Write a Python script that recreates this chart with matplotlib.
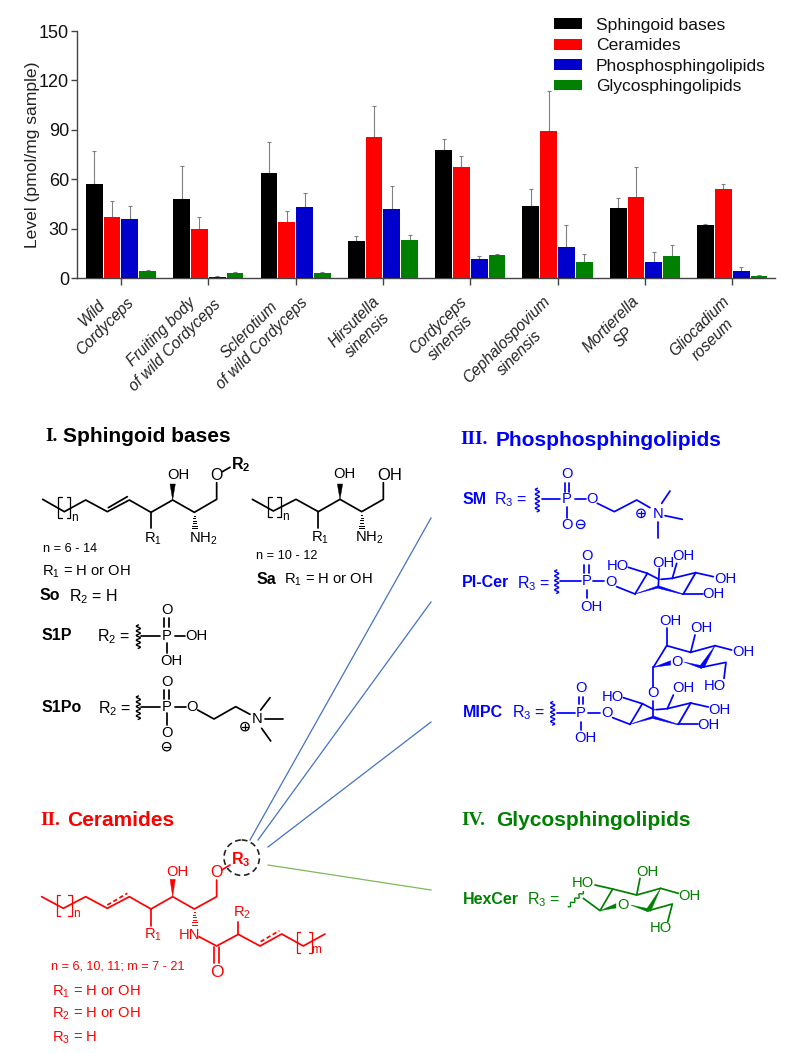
import numpy as np
import matplotlib
matplotlib.use("Agg")
import matplotlib.pyplot as plt
from matplotlib.patches import Polygon, Circle
from matplotlib.transforms import ScaledTranslation

plt.rcParams['font.family'] = ['Liberation Sans', 'DejaVu Sans']
plt.rcParams['mathtext.default'] = 'regular'

# ---------- data ----------
groups = ["Wild\nCordyceps", "Fruiting body\nof wild Cordyceps", "Sclerotium\nof wild Cordyceps",
          "Hirsutella\nsinensis", "Cordyceps\nsinensis", "Cephalospovium\nsinensis",
          "Mortierella\nSP", "Gliocadium\nroseum"]
series_names = ["Sphingoid bases", "Ceramides", "Phosphosphingolipids", "Glycosphingolipids"]
series_colors = ["#000000", "#FF0000", "#0000CC", "#008000"]
sphingoid = [57.5, 48.3, 64.0, 22.5, 78.0, 44.0, 42.5, 32.3]
sphingoid_top = [77.5, 68.3, 82.7, 25.5, 84.3, 54.0, 48.5, 33.2]
ceramides = [37.2, 30.0, 34.0, 86.0, 67.8, 89.5, 49.3, 54.0]
ceramides_top = [47.0, 37.0, 41.0, 104.5, 74.0, 113.5, 67.8, 57.5]
phospho = [35.7, 1.0, 43.0, 42.0, 11.5, 18.8, 9.8, 4.5]
phospho_top = [44.0, 1.3, 51.5, 56.0, 13.3, 32.5, 16.0, 7.0]
glyco = [4.2, 3.5, 3.5, 23.0, 14.0, 10.0, 13.5, 1.2]
glyco_top = [4.9, 3.9, 4.0, 26.3, 15.0, 14.5, 20.0, 1.8]
yticks = [0, 30, 60, 90, 120, 150]

W, H = 787, 1053
fig = plt.figure(figsize=(W / 100, H / 100), dpi=100, facecolor='white')

# ---------- bar chart ----------
ax = fig.add_axes([77.3 / W, 1 - 278.3 / H, (775 - 77.3) / W, (278.3 - 31) / H])
x = np.arange(len(groups))
vals = [sphingoid, ceramides, phospho, glyco]
tops = [sphingoid_top, ceramides_top, phospho_top, glyco_top]
pitch = 0.204
for k, (v, t, c, n) in enumerate(zip(vals, tops, series_colors, series_names)):
    pos = x + (k - 1.5) * pitch
    v = np.array(v); t = np.array(t)
    ax.bar(pos, v, width=0.192, color=c, label=n, zorder=3)
    ax.errorbar(pos, v, yerr=[np.zeros_like(v), t - v], fmt='none', ecolor='#808080',
                elinewidth=0.8, capsize=1.5, capthick=0.8, zorder=2)
ax.set_xlim(-0.5, 7.49)
ax.set_ylim(0, 150)
ax.set_yticks(yticks)
ax.set_xticks(x)
ax.set_xticklabels(groups)
for s in ('top', 'right'):
    ax.spines[s].set_visible(False)
for s in ('left', 'bottom'):
    ax.spines[s].set_color('#444444')
    ax.spines[s].set_linewidth(1.0)
ax.tick_params(axis='y', length=4, width=1, color='#444444', labelsize=13, pad=2, labelcolor='#111111')
ax.tick_params(axis='x', length=5, width=1, color='#444444', labelsize=11.2, pad=6, labelcolor='#222222')
label_shift_px = [16, 15, 15, 13, 12, 8, 10, 13]
label_lift_px = [12, 10, 12, 0, 0, 0, 0, 0]
for lab, dx, dy in zip(ax.get_xticklabels(), label_shift_px, label_lift_px):
    lab.set_rotation(45)
    lab.set_ha('right')
    lab.set_va('top')
    lab.set_multialignment('center')
    lab.set_linespacing(1.3)
    lab.set_style('italic')
    lab.set_transform(lab.get_transform() + ScaledTranslation(dx * 0.72 / 72, dy * 0.72 / 72, fig.dpi_scale_trans))
ax.set_ylabel("Level (pmol/mg sample)", fontsize=12.6, color='#222222')
ax.yaxis.set_label_coords(40 / 697.7 - 77.3 / 697.7, 0.5)
ax.legend(loc='upper left', bbox_to_anchor=(553.5 / 697.7 - 77.3 / 697.7, 1.053), frameon=False,
          fontsize=12.6, handlelength=1.63, handleheight=0.57, labelspacing=0.31,
          handletextpad=0.8, borderpad=0, borderaxespad=0, labelcolor='#111111')

# ---------- structure panel, drawn in pixel coordinates ----------
ov = fig.add_axes([0, 0, 1, 1], zorder=-1)
ov.set_xlim(0, W); ov.set_ylim(H, 0); ov.axis('off')
SANS = ['Liberation Sans']


class Pen:
    """Draws in 3x crop coordinates relative to an origin."""
    def __init__(self, ox, oy, color):
        self.ox, self.oy, self.c = ox, oy, color

    def p(self, x, y):
        return self.ox + x / 3, self.oy + y / 3

    def line(self, *pts, lw=1.25, ls='-'):
        xy = np.array([self.p(*q) for q in pts])
        ov.plot(xy[:, 0], xy[:, 1], color=self.c, lw=lw, ls=ls, solid_capstyle='round',
                solid_joinstyle='round')

    def wedge(self, a, b, w=8):
        a = np.array(self.p(*a)); b = np.array(self.p(*b))
        d = b - a; n = np.array([-d[1], d[0]]) / np.hypot(*d) * w / 3
        ov.add_patch(Polygon([a, b + n, b - n], closed=True, fc=self.c, ec=self.c, lw=0.3))

    def hashed(self, a, b, w=8, k=7):
        a = np.array(self.p(*a)); b = np.array(self.p(*b))
        d = b - a; n = np.array([-d[1], d[0]]) / np.hypot(*d) * w / 3
        for t in np.linspace(0.05, 1, k):
            c = a + d * t
            ov.plot(*zip(c - n * t, c + n * t), color=self.c, lw=0.7)

    def wavy(self, a, b, amp=6, waves=5):
        a = np.array(self.p(*a)); b = np.array(self.p(*b))
        d = b - a; n = np.array([-d[1], d[0]]) / np.hypot(*d) * amp / 3
        t = np.linspace(0, 1, 80)
        xy = a + np.outer(t, d) + np.outer(np.sin(t * waves * 2 * np.pi), n)
        ov.plot(xy[:, 0], xy[:, 1], color=self.c, lw=1.0)

    def text(self, x, y, s, size=10.6, ha='center', bold=False, fam=SANS):
        px, py = self.p(x, y)
        ov.text(px, py, s, color=self.c, fontsize=size, ha=ha, va='center',
                fontweight='bold' if bold else 'normal', family=fam)

    def title(self, x_num, x_txt, y, num, txt):
        px, py = self.p(x_num, y)
        ov.text(px, py, num, color=self.c, fontsize=14, ha='left', va='center',
                fontweight='bold', family=['Liberation Serif'])
        px, py = self.p(x_txt, y)
        ov.text(px, py, txt, color=self.c, fontsize=15, ha='left', va='center',
                fontweight='bold', family=['Liberation Sans'])

    def brackets(self, x0, x1, y0, y1, s=10):
        self.line((x0 + s, y0), (x0, y0), (x0, y1), (x0 + s, y1), lw=0.9)
        self.line((x1 - s, y0), (x1, y0), (x1, y1), (x1 - s, y1), lw=0.9)

    def circ(self, x, y, sign):
        px, py = self.p(x, y)
        ov.add_patch(Circle((px, py), 4.2, fc='none', ec=self.c, lw=0.9))
        ov.plot([px - 2.6, px + 2.6], [py, py], color=self.c, lw=0.9)
        if sign == '+':
            ov.plot([px, px], [py - 2.6, py + 2.6], color=self.c, lw=0.9)

    def double(self, x, y0, y1, g=7):
        self.line((x - g, y0), (x - g, y1))
        self.line((x + g, y0), (x + g, y1))


# connector lines
ov.plot([250, 431], [840, 518], color='#4472C4', lw=0.9)
ov.plot([258, 431], [840, 602], color='#4472C4', lw=0.9)
ov.plot([268, 431], [847, 722], color='#4472C4', lw=0.9)
ov.plot([268, 431], [865, 890], color='#7DB95A', lw=0.9)
ov.add_patch(Circle((241.7, 857.7), 17.7, fc='none', ec='#222222', lw=1.2, ls=(0, (3.5, 2.2))))

# I. Sphingoid bases
a = Pen(20, 410, 'black')
a.title(75, 130, 80, "I.", "Sphingoid bases")
a.line((68, 268), (133, 305), (197, 270), (262, 305), (328, 270), (393, 307), (458, 270), (523, 307),
       (590, 268), (590, 218))
a.line((265, 293), (322, 260))
a.brackets(115, 150, 262, 325)
a.text(163, 325, "n", 8.5)
a.line((393, 307), (393, 355))
a.text(400, 385, "R$_1$")
a.wedge((458, 270), (458, 222))
a.text(474, 195, "OH")
a.hashed((523, 307), (523, 355))
a.text(549, 385, "NH$_2$")
a.text(590, 197, "O", 11.5)
a.line((607, 185), (630, 172))
a.text(663, 163, "R$_2$", 11.5, bold=True)
a.text(68, 418, "n = 6 - 14", 9.2, ha='left')
a.text(65, 485, "R$_1$ = H or OH", 10.6, ha='left')
a.text(60, 557, "So", 11.5, ha='left', bold=True)
a.text(148, 560, "R$_2$ = H", 11.5, ha='left')
a.line((697, 268), (760, 303), (828, 268), (895, 305), (960, 268), (1025, 305), (1090, 268), (1090, 218))
a.brackets(745, 782, 262, 322)
a.text(797, 320, "n", 8.5)
a.line((895, 305), (895, 355))
a.text(900, 383, "R$_1$")
a.wedge((960, 268), (960, 222))
a.text(974, 193, "OH")
a.text(1108, 195, "OH", 12)
a.hashed((1025, 305), (1025, 355))
a.text(1049, 383, "NH$_2$")
a.text(708, 437, "n = 10 - 12", 9.2, ha='left')
a.text(710, 510, "Sa", 11.5, ha='left', bold=True)
a.text(793, 510, "R$_1$ = H or OH", 10.6, ha='left')
a.text(65, 675, "S1P", 11.5, ha='left', bold=True)
a.text(232, 680, "R$_2$ =", 11.5, ha='left')
a.wavy((355, 645), (355, 715))
a.line((362, 677), (420, 677))
a.text(440, 677, "P")
a.text(440, 600, "O")
a.double(440, 625, 652)
a.line((465, 677), (495, 677))
a.text(530, 677, "OH")
a.line((440, 700), (440, 730))
a.text(455, 752, "OH")
a.text(65, 893, "S1Po", 11.5, ha='left', bold=True)
a.text(235, 897, "R$_2$ =", 11.5, ha='left')
a.wavy((355, 858), (355, 928))
a.line((362, 890), (420, 890))
a.text(440, 890, "P")
a.text(440, 815, "O")
a.double(440, 840, 868)
a.line((465, 890), (497, 890))
a.text(515, 890, "O")
a.line((533, 900), (582, 927), (647, 890), (690, 913))
a.text(710, 927, "N")
a.circ(675, 950, '+')
a.line((722, 900), (750, 863))
a.line((735, 927), (790, 927))
a.line((725, 955), (752, 993))
a.line((440, 910), (440, 945))
a.text(440, 968, "O")
a.circ(440, 1010, '-')

# II. Ceramides
r = Pen(20, 790, '#FF0000')
r.title(62, 140, 92, "II.", "Ceramides")
r.line((65, 320), (130, 355), (197, 320), (262, 355), (328, 320), (393, 357), (458, 320), (523, 357),
       (590, 320), (590, 270))
r.line((262, 345), (322, 310), ls=(0, (2.5, 1.5)))
r.brackets(110, 155, 315, 378)
r.text(170, 372, "n", 8.5)
r.line((393, 357), (393, 408))
r.text(400, 435, "R$_1$")
r.wedge((458, 320), (458, 268))
r.text(473, 245, "OH")
r.text(590, 248, "O", 11.5)
r.line((605, 240), (630, 225))
r.text(663, 210, "R$_3$", 11.5, bold=True)
r.hashed((523, 357), (523, 405))
r.text(508, 435, "HN")
r.line((537, 440), (590, 468), (655, 433), (720, 468), (785, 432), (850, 468), (915, 432))
r.line((583, 470), (583, 520))
r.line((596, 470), (596, 520))
r.text(590, 547, "O", 12.5)
r.line((655, 433), (655, 395))
r.text(665, 368, "R$_2$")
r.line((722, 455), (778, 422), ls=(0, (2.5, 1.5)))
r.brackets(830, 877, 427, 488)
r.text(887, 480, "m", 8.5)
r.text(92, 530, "n = 6, 10, 11; m = 7 - 21", 9.1, ha='left')
r.text(95, 605, "R$_1$ = H or OH", 10.6, ha='left')
r.text(95, 672, "R$_2$ = H or OH", 10.6, ha='left')
r.text(95, 742, "R$_3$ = H", 10.6, ha='left')

# III. Phosphosphingolipids
b = Pen(420, 420, '#0000FF')
b.title(122, 228, 60, "III.", "Phosphosphingolipids")
b.text(127, 240, "SM", 11.5, ha='left', bold=True)
b.text(222, 240, "R$_3$ =", 11.5, ha='left')
b.wavy((352, 205), (352, 275))
b.line((365, 238), (420, 238))
b.text(441, 238, "P")
b.text(441, 163, "O")
b.double(441, 190, 215)
b.line((465, 238), (497, 238))
b.text(515, 238, "O")
b.line((532, 250), (583, 275), (650, 240), (690, 263))
b.text(713, 282, "N")
b.circ(663, 280, '+')
b.line((725, 250), (750, 213))
b.line((735, 287), (787, 298))
b.line((713, 305), (713, 355))
b.line((441, 262), (441, 295))
b.text(440, 315, "O")
b.circ(482, 313, '-')


def inositol(p, x0, y0):
    """Inositol chair; x0, y0 is atom A of the ring."""
    A = (x0, y0); B = (x0 + 37, y0 - 62); C = (x0 + 70, y0 - 25)
    D = (x0 + 145, y0); E = (x0 + 182, y0 - 64); F = (x0 + 112, y0 - 47)
    p.line(A, B)
    p.line(B, (x0 + 72, y0 - 44))
    p.line((x0 + 78, y0 - 44), F)
    ov.add_patch(Polygon([p.p(*A), p.p(*C), p.p(x0 + 70, y0 - 18), p.p(x0 + 38, y0 - 10)],
                         fc=p.c, ec=p.c, lw=0.3))
    ov.add_patch(Polygon([p.p(*C), p.p(*D), p.p(x0 + 145, y0 + 2), p.p(x0 + 70, y0 - 17)],
                         fc=p.c, ec=p.c, lw=0.3))
    p.line(D, E, lw=1.3)
    p.line(E, F)
    p.line(B, (x0 - 20, y0 - 80))
    p.line(E, (x0 + 235, y0 - 52))
    p.line(D, (x0 + 203, y0))
    return C, F


b.text(127, 488, "PI-Cer", 11.5, ha='left', bold=True)
b.text(292, 490, "R$_3$ =", 11.5, ha='left')
b.wavy((410, 450), (410, 520))
b.line((420, 483), (483, 483))
b.text(500, 483, "P")
b.text(500, 408, "O")
b.double(500, 435, 460)
b.line((518, 483), (553, 483))
b.text(573, 487, "O")
b.line((500, 510), (500, 535))
b.text(515, 560, "OH")
b.line((590, 500), (645, 522))
C, F = inositol(b, 645, 522)
b.line(C, (718, 445))
b.line(F, (770, 430))
b.text(593, 437, "HO")
b.text(730, 430, "OH")
b.text(790, 408, "OH")
b.text(915, 478, "OH")
b.text(880, 522, "OH")

b.text(130, 877, "MIPC", 11.5, ha='left', bold=True)
b.text(275, 877, "R$_3$ =", 11.5, ha='left')
b.wavy((398, 845), (398, 915))
b.line((412, 878), (465, 878))
b.text(483, 878, "P")
b.text(483, 803, "O")
b.double(483, 830, 853)
b.line((503, 878), (540, 878))
b.text(560, 880, "O")
b.line((483, 905), (483, 930))
b.text(497, 953, "OH")
b.line((578, 893), (630, 913))
C, F = inositol(b, 630, 913)
b.line(C, (700, 842))
b.text(700, 820, "O")
b.line((700, 800), (700, 742))
b.line(F, (760, 825))
b.text(578, 830, "HO")
b.text(790, 805, "OH")
b.text(898, 870, "OH")
b.text(865, 915, "OH")
# upper ring
b.line((700, 742), (740, 677), (812, 697), (885, 677))
ov.add_patch(Polygon([b.p(885, 677), b.p(838, 740), b.p(852, 744)], fc=b.c, ec=b.c, lw=0.3))
ov.add_patch(Polygon([b.p(700, 742), b.p(752, 722), b.p(752, 735)], fc=b.c, ec=b.c, lw=0.3))
b.text(772, 725, "O")
ov.add_patch(Polygon([b.p(792, 726), b.p(845, 737), b.p(845, 746)], fc=b.c, ec=b.c, lw=0.3))
b.line((845, 742), (918, 727), (912, 775))
b.text(885, 797, "HO")
b.line((740, 677), (740, 625))
b.text(752, 603, "OH")
b.line((812, 697), (825, 645))
b.text(845, 625, "OH")
b.line((885, 677), (935, 690))
b.text(970, 697, "OH")

# IV. Glycosphingolipids
g = Pen(420, 790, '#008000')
g.title(125, 228, 92, "IV.", "Glycosphingolipids")
g.text(130, 328, "HexCer", 11.5, ha='left', bold=True)
g.text(320, 328, "R$_3$ =", 11.5, ha='left')
g.wavy((445, 350), (490, 305), amp=4, waves=3.5)
g.line((490, 325), (540, 362), (578, 297), (650, 315), (722, 295))
g.line((525, 285), (578, 297))
g.text(488, 278, "HO")
ov.add_patch(Polygon([g.p(540, 362), g.p(588, 341), g.p(588, 354)], fc=g.c, ec=g.c, lw=0.3))
g.text(610, 345, "O")
ov.add_patch(Polygon([g.p(632, 345), g.p(685, 356), g.p(685, 366)], fc=g.c, ec=g.c, lw=0.3))
ov.add_patch(Polygon([g.p(722, 295), g.p(678, 360), g.p(692, 364)], fc=g.c, ec=g.c, lw=0.3))
g.line((685, 362), (757, 342), (743, 395))
g.text(722, 415, "HO")
g.line((650, 315), (660, 265))
g.text(683, 245, "OH")
g.line((722, 295), (775, 310))
g.text(808, 318, "OH")

fig.savefig("out.png", dpi=100)
